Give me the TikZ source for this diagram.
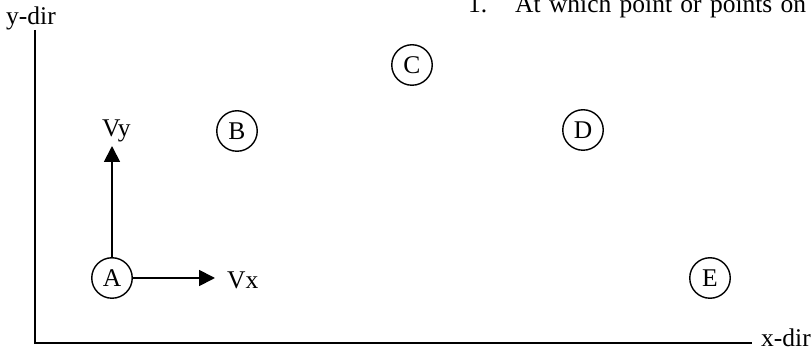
\documentclass[tikz,border=0pt]{standalone}
\usepackage{fontspec}
\setmainfont{Liberation Serif}
\usetikzlibrary{arrows.meta}
\begin{document}
\begin{tikzpicture}[x=1pt,y=-1pt,
  every node/.style={font=\fontsize{25.5}{30}\selectfont},
  pt/.style={draw,circle,line width=1.4pt,minimum size=40.5pt,inner sep=0pt},
  lbl/.style={anchor=base west,inner sep=0pt},
  axis/.style={line width=1.5pt},
  vec/.style={line width=1.8pt,-{Triangle[length=16pt,width=16pt]}}]
\useasboundingbox (0,0) rectangle (812,352);
% axes
\coordinate (ytop) at (35,30);
\coordinate (origin) at (35,343);
\coordinate (xend) at (752,343);
\draw[axis] (ytop) -- (origin) -- (xend);
\node[lbl] (ydir) at (6,25) {y-dir};
\node[lbl] (xdir) at (761,346.5) {x-dir};
% title text
\node[lbl] (qnum) at (468,13) {1.};
\node[lbl] (q) at (515,13) {\hbox to 291pt{At\hfill which\hfill point\hfill or\hfill points\hfill on}};
% points
\node[pt] (A) at (112,278) {A};
\node[pt] (B) at (237,131) {B};
\node[pt] (C) at (412,65) {C};
\node[pt] (D) at (583,130) {D};
\node[pt] (E) at (710,278) {E};
% vectors
\coordinate (vytip) at (112,146);
\coordinate (vxtip) at (215,278);
\draw[vec] (A.north) -- (vytip);
\draw[vec] (A.east) -- (vxtip);
\node[lbl] (vy) at (102,137) {Vy};
\node[lbl] (vx) at (227,288.5) {Vx};
\end{tikzpicture}
\end{document}
